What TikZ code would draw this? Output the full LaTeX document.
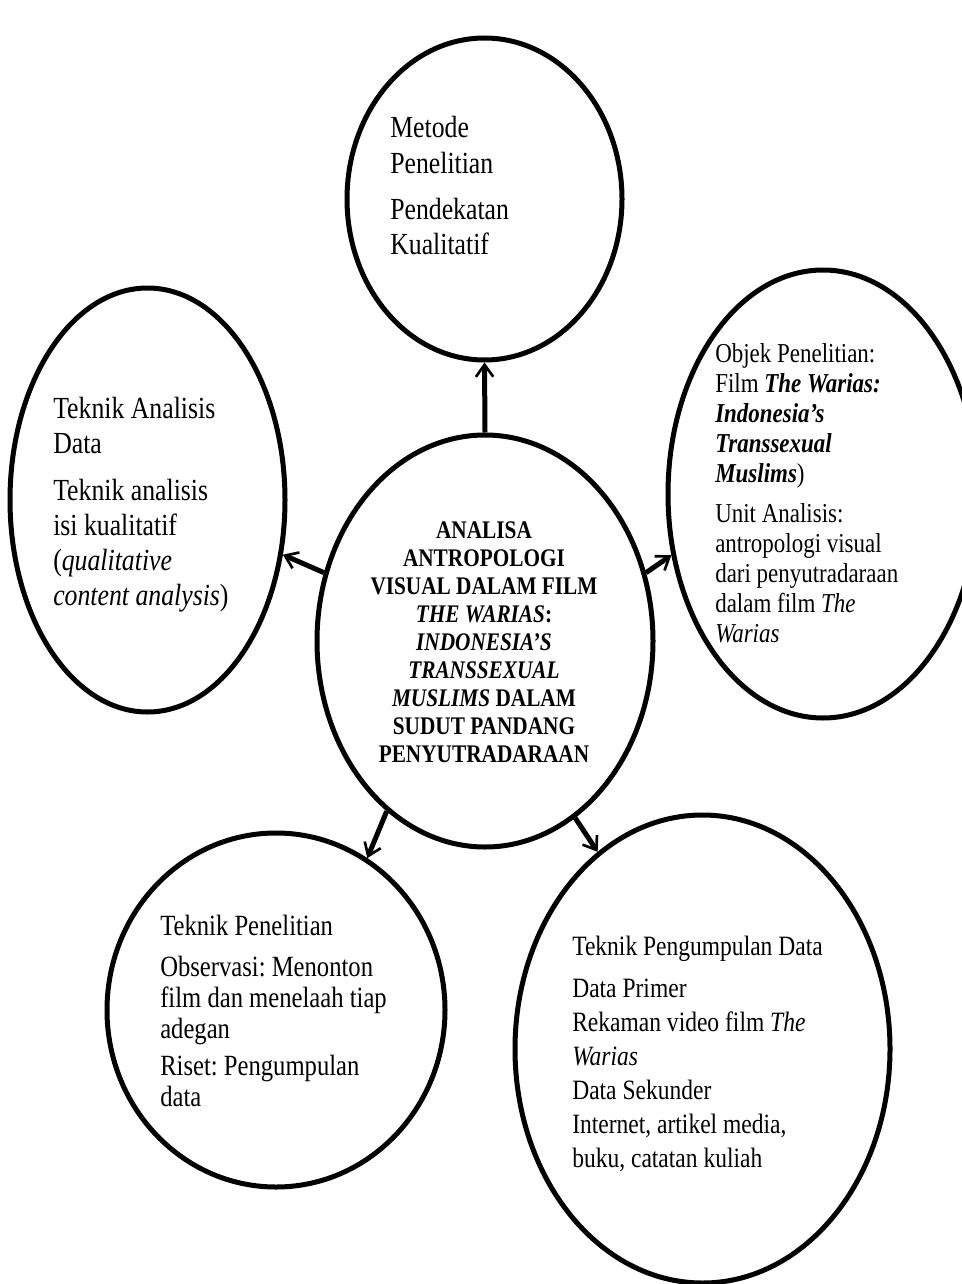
\documentclass[tikz,border=0pt]{standalone}
\usepackage{fontspec}
\usepackage{graphicx}
\setmainfont{Liberation Serif}
\usetikzlibrary{shapes.geometric,arrows.meta}
\newcommand{\cond}[1]{\scalebox{0.84}[1]{#1}}
\frenchspacing
\tikzset{
  oval/.style={ellipse, draw, line width=3.75pt, inner sep=0pt},
  arr/.style={line width=3.75pt, -{Straight Barb[length=9pt,width=13pt,line width=2pt]}},
  txt/.style={anchor=base west, inner sep=0pt},
  ctxt/.style={anchor=base, inner sep=0pt}
}
\begin{document}
\begin{tikzpicture}[x=0.75pt,y=-0.75pt]
\useasboundingbox (0,0) rectangle (962,1284);
\clip (0,0) rectangle (962,1284);
% ellipses
\node[oval, minimum width=206.25pt, minimum height=241.5pt] (meth) at (484.5,199) {};
\node[oval, minimum width=206.25pt, minimum height=318pt] (anal) at (147.5,500) {};
\node[oval, minimum width=252pt, minimum height=309pt] (main) at (485,641) {};
\node[oval, minimum width=232.5pt, minimum height=336pt] (obj) at (823,494) {};
\node[oval, minimum width=253.5pt, minimum height=265.5pt] (tek) at (276,1010) {};
\node[oval, minimum width=281.25pt, minimum height=351pt] (kump) at (702.5,1049) {};
% texts
\node[txt, font=\fontsize{23pt}{26.25pt}\selectfont] (methtxt) at (390,138)
  {\cond{\begin{tabular}[t]{@{}l@{}}Metode\\ Penelitian\\[9pt] Pendekatan\\ Kualitatif\end{tabular}}};
\node[txt, font=\fontsize{23pt}{26.25pt}\selectfont] (analtxt) at (53,418)
  {\cond{\begin{tabular}[t]{@{}l@{}}Teknik Analisis\\ Data\\[9pt] Teknik analisis\\ isi kualitatif\\ (\textit{qualitative}\\ \textit{content analysis})\end{tabular}}};
\node[ctxt, font=\fontsize{19pt}{21pt}\selectfont\bfseries] (maintxt) at (484,538)
  {\cond{\begin{tabular}[t]{@{}c@{}}ANALISA\\ ANTROPOLOGI\\ VISUAL DALAM FILM\\ \textit{THE WARIAS}:\\ \textit{INDONESIA’S}\\ \textit{TRANSSEXUAL}\\ \textit{MUSLIMS} DALAM\\ SUDUT PANDANG\\ PENYUTRADARAAN\end{tabular}}};
\node[txt, font=\fontsize{20.5pt}{22.5pt}\selectfont] (objtxt) at (715,362)
  {\cond{\begin{tabular}[t]{@{}l@{}}Objek Penelitian:\\ Film \textbf{\textit{The Warias:}}\\ \textbf{\textit{Indonesia’s}}\\ \textbf{\textit{Transsexual}}\\ \textbf{\textit{Muslims}})\\[7.5pt] Unit Analisis:\\ antropologi visual\\ dari penyutradaraan\\ dalam film \textit{The}\\ \textit{Warias}\end{tabular}}};
\node[txt, font=\fontsize{22pt}{23.25pt}\selectfont] (tektxt) at (160,935)
  {\cond{\begin{tabular}[t]{@{}l@{}}Teknik Penelitian\\[8pt] Observasi: Menonton\\ film dan menelaah tiap\\ adegan\\[4.5pt] Riset: Pengumpulan\\ data\end{tabular}}};
\node[txt, font=\fontsize{21pt}{25.5pt}\selectfont] (kumptxt) at (572,955)
  {\cond{\begin{tabular}[t]{@{}l@{}}Teknik Pengumpulan Data\\[6pt] Data Primer\\ Rekaman video film \textit{The}\\ \textit{Warias}\\ Data Sekunder\\ Internet, artikel media,\\ buku, catatan kuliah\end{tabular}}};
% connectors
\draw[arr] (main.north) -- (meth.south);
\draw[arr] (main.157.6) -- (anal.-22);
\draw[arr] (main.23.3) -- (obj.202.5);
\draw[arr] (main.240.6) -- (tek.59.9);
\draw[arr] (main.297.6) -- (kump.118.5);
\end{tikzpicture}
\end{document}
